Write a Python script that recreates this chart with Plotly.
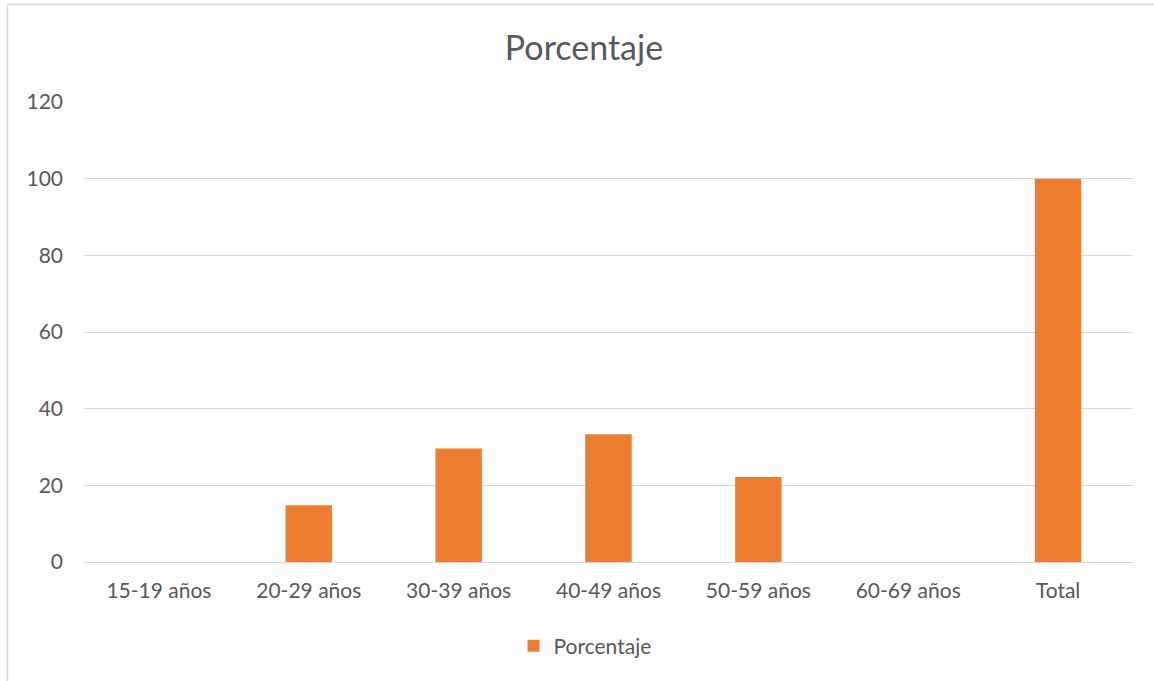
import plotly.graph_objects as go

categorias = ["15-19 años", "20-29 años", "30-39 años", "40-49 años",
              "50-59 años", "60-69 años", "Total"]
porcentaje = [0, 14.8, 29.6, 33.3, 22.2, 0, 100]
ticks_y = [0, 20, 40, 60, 80, 100, 120]

W, H = 1154, 681
L, R, T, B = 84, 21, 102, 119
pw, ph = W - L - R, H - T - B

def px_x(x):
    return (x - L) / pw

def px_y(y):
    return (H - B - y) / ph

fig = go.Figure()
fig.add_trace(go.Bar(
    x=categorias, y=porcentaje, name="Porcentaje",
    marker=dict(color="#ED7D31", line=dict(width=0)),
    width=0.31, showlegend=True,
))

font_fam = "Lato, 'Open Sans', sans-serif"
fig.update_layout(
    width=W, height=H,
    margin=dict(l=L, r=R, t=T, b=B),
    paper_bgcolor="white", plot_bgcolor="white",
    font=dict(family=font_fam, color="#595959", size=21),
    title=dict(text="Porcentaje", x=584 / W, xanchor="center",
               y=1 - 48 / H, yanchor="middle",
               font=dict(size=34, color="#595959", family=font_fam)),
    showlegend=True,
    legend=dict(orientation="h", x=px_x(585), xanchor="center",
                y=px_y(646), yanchor="middle",
                font=dict(size=21, color="#595959"),
                itemwidth=30),
    bargap=0.69,
)
fig.update_xaxes(showgrid=False, showline=True, linecolor="#D9D9D9", linewidth=1,
                 ticks="", ticklabelstandoff=10,
                 tickfont=dict(size=21, color="#595959"))
fig.update_yaxes(range=[0, 120], tickvals=ticks_y, showgrid=True, gridcolor="#D9D9D9",
                 gridwidth=1, zeroline=False, showline=False, ticks="",
                 ticklabelstandoff=20, tickfont=dict(size=21, color="#595959"))

# chart frame (top and left edges visible)
fig.add_shape(type="line", xref="paper", yref="paper",
              x0=px_x(7), x1=px_x(1160), y0=px_y(4.5), y1=px_y(4.5),
              line=dict(color="#D9D9D9", width=1.5))
fig.add_shape(type="line", xref="paper", yref="paper",
              x0=px_x(7.5), x1=px_x(7.5), y0=px_y(4.5), y1=px_y(690),
              line=dict(color="#D9D9D9", width=1.5))

fig.write_html("out.html")
